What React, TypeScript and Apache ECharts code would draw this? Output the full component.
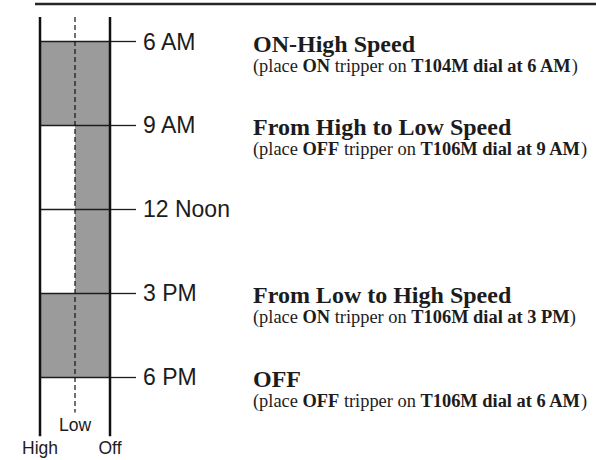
import React, { useEffect, useRef } from 'react';
import * as echarts from 'echarts';

// Time ticks (hours of day) and their labels
const timeHours = [6, 9, 12, 15, 18];
const timeLabels = ['6 AM', '9 AM', '12 Noon', '3 PM', '6 PM'];

// Speed lanes: High (0), Low (1), Off (2)
const laneNames = ['High', 'Low', 'Off'];
const lanePos = [0, 1, 2];
const laneTop = [5.12, 5.12, 5.12];
const laneBottom = [20.12, 19.27, 20.12];
const laneDashed = [false, true, false];

// Shaded running periods: from lane position to lane position, start/end hours
const blockStart = [6, 9, 15];
const blockEnd = [9, 15, 18];
const blockFrom = [0, 1, 0];
const blockTo = [2, 2, 2];

// Annotations
const eventHours = [6, 9, 15, 18];
const eventTitles = ['ON-High Speed', 'From High to Low Speed', 'From Low to High Speed', 'OFF'];
const eventTripper = ['ON', 'OFF', 'ON', 'OFF'];
const eventDial = ['T104M dial at 6 AM', 'T106M dial at 9 AM', 'T106M dial at 3 PM', 'T106M dial at 6 AM'];

const INK = '#1c1c1c';
const SANS = '"Liberation Sans", Arial, Helvetica, sans-serif';
const SERIF = '"Liberation Serif", "Times New Roman", serif';

export default function App() {
  const ref = useRef<HTMLDivElement>(null);

  useEffect(() => {
    if (!ref.current) return;
    const chart = echarts.init(ref.current, undefined, { renderer: 'svg' });

    const option: any = {
      animation: false,
      backgroundColor: '#ffffff',
      grid: { left: 40, top: 41.5, width: 70, height: 335.5 },
      xAxis: { type: 'value', min: 0, max: 2, show: false },
      yAxis: {
        type: 'value',
        inverse: true,
        min: 6,
        max: 18,
        interval: 3,
        position: 'right',
        axisLine: { show: true, onZero: false, lineStyle: { color: '#111111', width: 1 } },
        axisTick: { show: true, inside: false, length: 26, lineStyle: { color: INK, width: 1.3 } },
        axisLabel: {
          margin: 33,
          fontSize: 23,
          fontFamily: SANS,
          color: INK,
          formatter: (v: number) => {
            const i = timeHours.indexOf(v);
            return i >= 0 ? timeLabels[i] : '';
          },
        },
        splitLine: { show: true, lineStyle: { color: INK, width: 1.3 } },
      },
      graphic: [
        {
          type: 'line',
          shape: { x1: 35, y1: 4, x2: 596, y2: 4 },
          style: { stroke: '#262626', lineWidth: 2.5 },
        },
      ],
      series: [
        {
          type: 'custom',
          name: 'blocks',
          z: -1,
          silent: true,
          clip: false,
          encode: { x: [0, 1], y: [2, 3] },
          data: blockStart.map((s, i) => [blockFrom[i], blockTo[i], s, blockEnd[i]]),
          renderItem: (params: any, api: any) => {
            const p1 = api.coord([api.value(0), api.value(2)]);
            const p2 = api.coord([api.value(1), api.value(3)]);
            return {
              type: 'rect',
              shape: { x: p1[0], y: p1[1], width: p2[0] - p1[0], height: p2[1] - p1[1] },
              style: { fill: '#9b9b9b' },
            };
          },
        },
        {
          type: 'custom',
          name: 'lanes',
          silent: true,
          clip: false,
          encode: { x: 0, y: [1, 2] },
          data: lanePos.map((p, i) => [p, laneTop[i], laneBottom[i], i]),
          renderItem: (params: any, api: any) => {
            const i = api.value(3);
            const top = api.coord([api.value(0), api.value(1)]);
            const bot = api.coord([api.value(0), api.value(2)]);
            const dashed = laneDashed[i];
            return {
              type: 'group',
              children: [
                {
                  type: 'line',
                  shape: { x1: top[0], y1: top[1], x2: bot[0], y2: bot[1] },
                  style: {
                    stroke: '#111111',
                    lineWidth: dashed ? 1.2 : 2.5,
                    lineDash: dashed ? [5, 3] : null,
                  },
                },
                {
                  type: 'text',
                  x: bot[0],
                  y: bot[1] + 12,
                  style: {
                    text: laneNames[i],
                    fontSize: 17.5,
                    fontFamily: SANS,
                    fill: INK,
                    align: 'center',
                    verticalAlign: 'middle',
                  },
                },
              ],
            };
          },
        },
        {
          type: 'custom',
          name: 'events',
          silent: true,
          clip: false,
          encode: { x: 0, y: 1 },
          data: eventHours.map((h, i) => [0, h, i]),
          renderItem: (params: any, api: any) => {
            const i = api.value(2);
            const p = api.coord([api.value(0), api.value(1)]);
            const x = p[0] + 213;
            return {
              type: 'group',
              children: [
                {
                  type: 'text',
                  x,
                  y: p[1] + 2,
                  style: {
                    text: eventTitles[i],
                    fontSize: 24,
                    fontWeight: 'bold',
                    fontFamily: SERIF,
                    fill: INK,
                    align: 'left',
                    verticalAlign: 'middle',
                  },
                },
                {
                  type: 'text',
                  x,
                  y: p[1] + 24,
                  style: {
                    text: `(place {b|${eventTripper[i]}} tripper on {b|${eventDial[i]}})`,
                    fontSize: 18.4,
                    fontFamily: SERIF,
                    fill: INK,
                    align: 'left',
                    verticalAlign: 'middle',
                    rich: {
                      b: { fontSize: 18.4, fontWeight: 'bold', fontFamily: SERIF, fill: INK },
                    },
                  },
                },
              ],
            };
          },
        },
      ],
    };

    chart.setOption(option);
    return () => chart.dispose();
  }, []);

  return (
    <div
      ref={ref}
      style={{ position: 'fixed', left: 0, top: 0, width: 596, height: 460, background: '#fff' }}
    />
  );
}
